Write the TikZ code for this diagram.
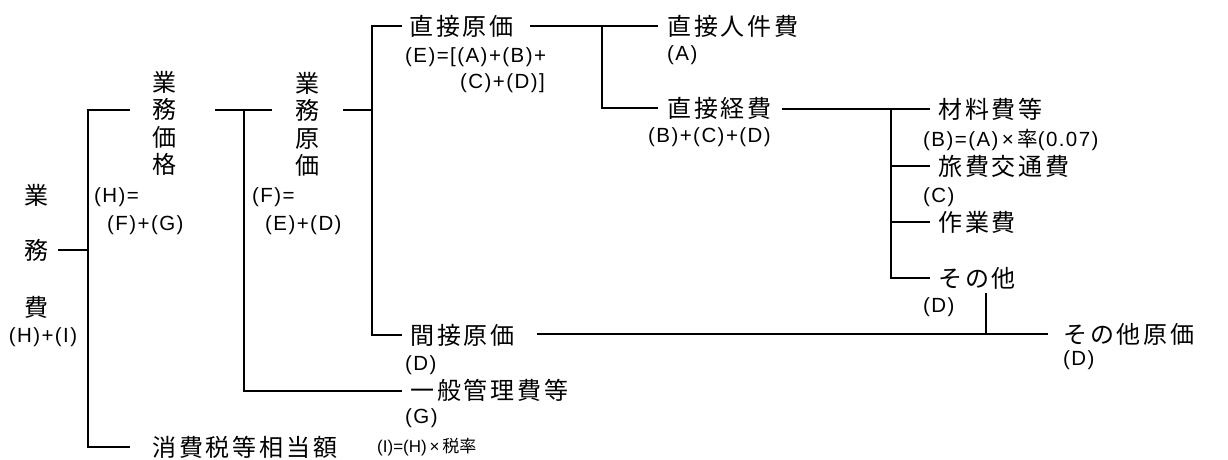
\documentclass[tikz,border=0pt]{standalone}
\usepackage{fontspec}
\setmainfont{Liberation Sans}
\newfontfamily\jp[LetterSpace=12]{Noto Sans CJK JP}
\newfontfamily\jpn{Noto Sans CJK JP}
\newfontfamily\lb[LetterSpace=7]{Liberation Sans}
\begin{document}
\begin{tikzpicture}[x=1pt,y=-1pt,
  jt/.style={font=\jp\fontsize{24}{27}\selectfont, inner sep=0pt, anchor=west},
  lt/.style={font=\lb\fontsize{20.5}{23}\selectfont, inner sep=0pt, anchor=west},
  vt/.style={font=\jpn\fontsize{24}{27.5}\selectfont, inner sep=0pt, align=center},
  ln/.style={line width=1.6pt}]
\useasboundingbox (0,0) rectangle (1228,460);
% left column
\node[jt,anchor=center] (gyo1) at (36,195) {業};
\node[jt,anchor=center] (mu1) at (36,250) {務};
\node[jt,anchor=center] (hi1) at (36,307) {費};
\node[lt,anchor=center] (hilab) at (43,337) {(H)+(I)};
% 業務価格
\node[vt] (kakaku) at (164,123.5) {業\\務\\価\\格};
\node[lt] (hlab) at (94,197) {(H)=};
\node[lt] (fglab) at (107,225) {(F)+(G)};
% 業務原価
\node[vt] (genka) at (307,124.5) {業\\務\\原\\価};
\node[lt] (flab) at (252,197) {(F)=};
\node[lt] (edlab) at (265,225) {(E)+(D)};
% 直接原価
\node[jt] (chokugen) at (409,26) {直接原価};
\node[lt] (elab1) at (405,57) {(E)=[(A)+(B)+};
\node[lt] (elab2) at (460,83) {(C)+(D)]};
\node[jt] (jinken) at (667,26) {直接人件費};
\node[lt] (alab) at (667,55) {(A)};
\node[jt] (keihi) at (667,108) {直接経費};
\node[lt] (bcdlab) at (648,137) {(B)+(C)+(D)};
\node[jt] (zairyo) at (938,109) {材料費等};
\node[lt] (blab) at (923,140) {(B)=(A)\,×\,{\jpn 率}(0.07)};
\node[jt] (ryohi) at (938,166) {旅費交通費};
\node[lt] (clab) at (923,197) {(C)};
\node[jt] (sagyo) at (938,222) {作業費};
\node[jt] (sonota) at (938,278) {その他};
\node[lt] (dlab) at (923,307) {(D)};
\node[jt] (sgenka) at (1063,334) {その他原価};
\node[lt] (d2lab) at (1063,360) {(D)};
% 間接原価 etc
\node[jt] (kansetsu) at (410,335) {間接原価};
\node[lt] (d3lab) at (405,365) {(D)};
\node[jt] (ippan) at (410,390) {一般管理費等};
\node[lt] (glab) at (405,418) {(G)};
\node[jt] (shohi) at (152,447) {消費税等相当額};
\node[inner sep=0pt, anchor=west, font=\fontsize{17}{20}\selectfont] (ilab) at (377,447) {(I)=(H)\,×\,{\jpn 税率}};
% junction coordinates
\coordinate (a0) at (58,250);
\coordinate (a1) at (88,250);
\coordinate (a2) at (88,110);
\coordinate (a3) at (130,110);
\coordinate (a4) at (88,447);
\coordinate (a5) at (130,447);
\coordinate (b0) at (215,110);
\coordinate (b1) at (272,110);
\coordinate (b2) at (244,110);
\coordinate (b3) at (244,391);
\coordinate (b4) at (402,391);
\coordinate (c0) at (343,110);
\coordinate (c1) at (372,110);
\coordinate (c2) at (372,26);
\coordinate (c3) at (402,26);
\coordinate (c4) at (372,335);
\coordinate (c5) at (402,335);
\coordinate (d0) at (530,26);
\coordinate (d1) at (658,26);
\coordinate (d2) at (602,26);
\coordinate (d3) at (602,108);
\coordinate (d4) at (658,108);
\coordinate (e0) at (782,109);
\coordinate (e1) at (930,109);
\coordinate (e2) at (891,109);
\coordinate (e3) at (891,278);
\coordinate (e4) at (930,278);
\coordinate (e5) at (891,166);
\coordinate (e6) at (930,166);
\coordinate (e7) at (891,222);
\coordinate (e8) at (930,222);
\coordinate (f0) at (537,334);
\coordinate (f1) at (1048,334);
\coordinate (f2) at (986,293);
\coordinate (f3) at (986,334);
% connectors
\draw[ln] (a0) -- (a1);
\draw[ln] (a3) -- (a2) -- (a4) -- (a5);
\draw[ln] (b0) -- (b1);
\draw[ln] (b2) -- (b3) -- (b4);
\draw[ln] (c0) -- (c1);
\draw[ln] (c3) -- (c2) -- (c4) -- (c5);
\draw[ln] (d0) -- (d1);
\draw[ln] (d2) -- (d3) -- (d4);
\draw[ln] (e0) -- (e1);
\draw[ln] (e2) -- (e3) -- (e4);
\draw[ln] (e5) -- (e6);
\draw[ln] (e7) -- (e8);
\draw[ln] (f0) -- (f1);
\draw[ln] (f2) -- (f3);
\end{tikzpicture}
\end{document}
